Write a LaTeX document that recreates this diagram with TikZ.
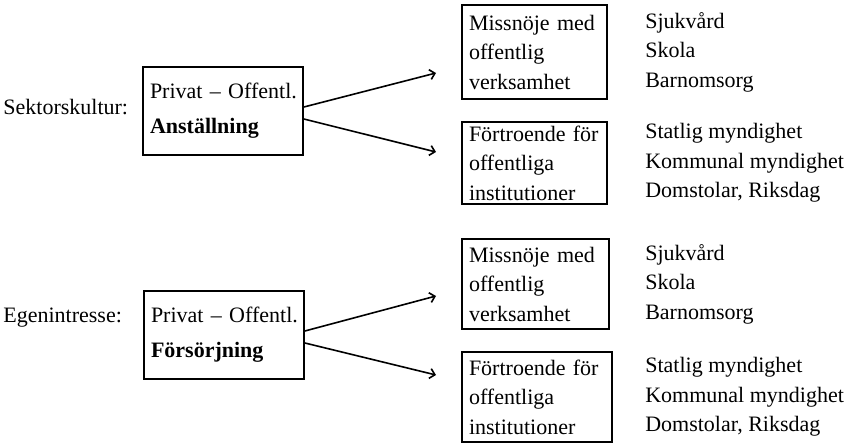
\documentclass[tikz,border=0pt]{standalone}
\usepackage{fontspec}
\setmainfont{Liberation Serif}
\usetikzlibrary{arrows.meta,positioning}
\tikzset{
	txt/.style={font=\fontsize{11}{14.75}\selectfont},
	box/.style args={#1x#2}{txt,draw,line width=0.9pt,align=left,inner xsep=3.5pt,inner ysep=0pt,text width=#1,minimum height=#2},
	srcbox/.style={box=73pt x 44pt,inner xsep=3.5pt,font=\fontsize{11}{17.5}\selectfont},
	list/.style={txt,align=left,inner sep=0pt},
	arr/.style={line width=0.8pt,-{Straight Barb[length=2.5pt,width=5pt,line width=0.8pt]}}
}
\begin{document}
\begin{tikzpicture}[x=0.5pt,y=-0.5pt]
	\useasboundingbox (0,0) rectangle (848,444);
	% upper half
	\node (sekt) at (3,107)[txt,anchor=west,inner sep=0pt] {Sektorskultur:};
	\node (anst) at (223,111)[srcbox] {\mbox{Privat – Offentl.}\\\textbf{Anställning}};
	\node (miss1) at (534.5,52)[box=65.5pt x 47pt] {Missnöje med\\offentlig\\verksamhet};
	\node (fort1) at (534.5,163)[box=65.5pt x 41pt] {Förtroende för\\offentliga\\institutioner};
	\node (lst1) [list,right=18.5pt of miss1] {Sjukvård\\Skola\\Barnomsorg};
	\node (lst2) [list,right=18.5pt of fort1] {Statlig myndighet\\Kommunal myndighet\\Domstolar, Riksdag};
	\coordinate (a1) at (436,73);
	\coordinate (a2) at (436,152);
	\draw[arr] ([yshift=2pt]anst.east) -- (a1);
	\draw[arr] ([yshift=-4pt]anst.east) -- (a2);
	% lower half
	\node (egen) at (3,318)[txt,anchor=west,inner sep=0pt] {Egenintresse:};
	\node (fors) at (224,335)[srcbox] {\mbox{Privat – Offentl.}\\\textbf{Försörjning}};
	\node (miss2) at (535.5,284)[box=66.5pt x 45pt] {Missnöje med\\offentlig\\verksamhet};
	\node (fort2) at (537,397)[box=68pt x 45pt] {Förtroende för\\offentliga\\institutioner};
	\node (lst3) [list,right=17.5pt of miss2] {Sjukvård\\Skola\\Barnomsorg};
	\node (lst4) [list,right=16pt of fort2] {Statlig myndighet\\Kommunal myndighet\\Domstolar, Riksdag};
	\coordinate (b1) at (436,296);
	\coordinate (b2) at (436,375);
	\draw[arr] ([yshift=2pt]fors.east) -- (b1);
	\draw[arr] ([yshift=-4pt]fors.east) -- (b2);
\end{tikzpicture}
\end{document}
